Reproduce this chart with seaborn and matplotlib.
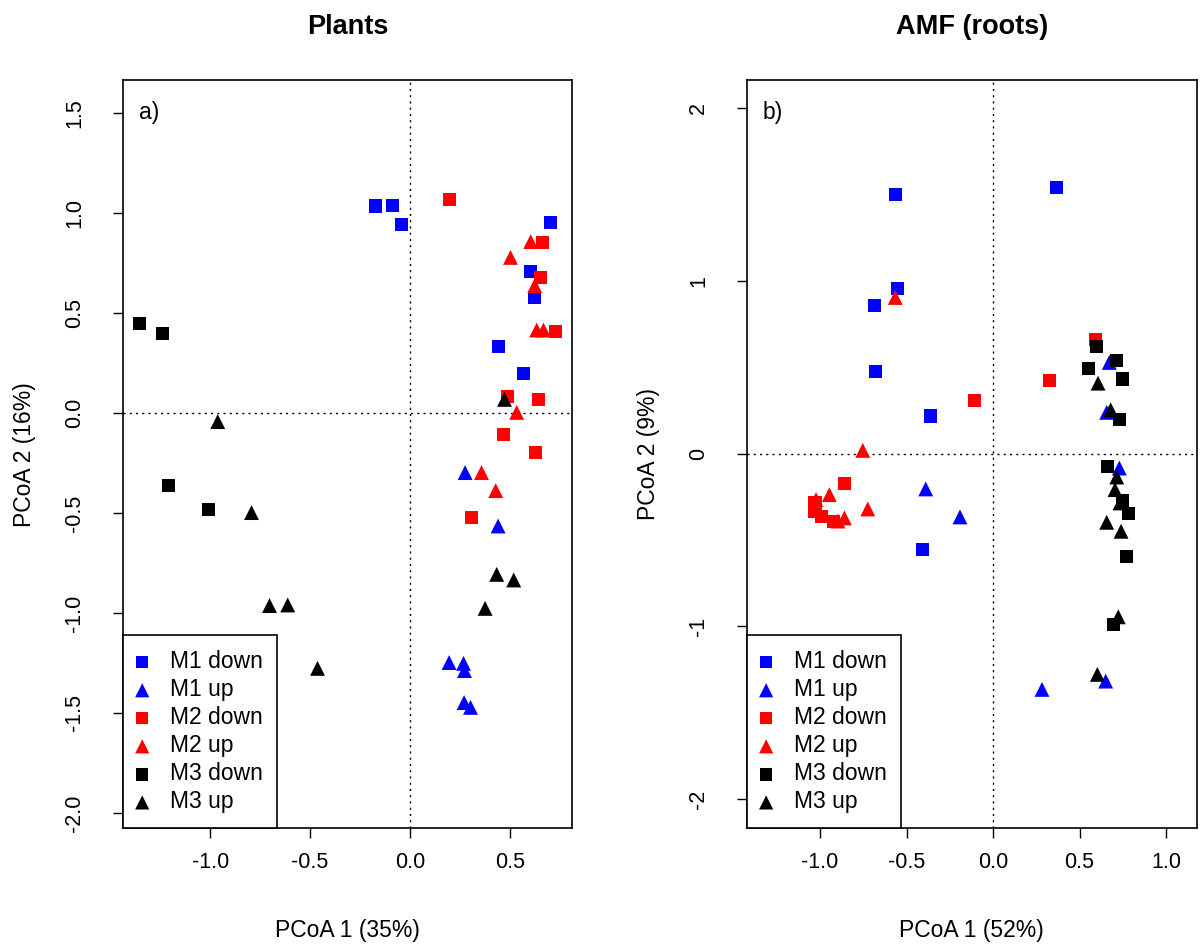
import matplotlib
matplotlib.use("Agg")
import matplotlib.pyplot as plt
import seaborn as sns
import pandas as pd

# groups and styles
groups = ["M1 down", "M1 up", "M2 down", "M2 up", "M3 down", "M3 up"]
colors = ["#0000ff", "#0000ff", "#ff0000", "#ff0000", "#000000", "#000000"]
markers = ["s", "^", "s", "^", "s", "^"]

# a) Plants
pl_m1_down_x = [-0.173, -0.088, -0.043, 0.702, 0.602, 0.622, 0.442, 0.567]
pl_m1_down_y = [1.035, 1.038, 0.943, 0.953, 0.708, 0.577, 0.333, 0.198]
pl_m1_up_x = [0.275, 0.440, 0.195, 0.267, 0.272, 0.270, 0.302]
pl_m1_up_y = [-0.298, -0.565, -1.248, -1.252, -1.288, -1.448, -1.472]
pl_m2_down_x = [0.197, 0.662, 0.650, 0.727, 0.487, 0.642, 0.467, 0.627, 0.307]
pl_m2_down_y = [1.068, 0.853, 0.678, 0.408, 0.083, 0.068, -0.107, -0.197, -0.522]
pl_m2_up_x = [0.603, 0.502, 0.623, 0.633, 0.667, 0.533, 0.357, 0.428]
pl_m2_up_y = [0.857, 0.778, 0.637, 0.415, 0.415, 0.003, -0.298, -0.388]
pl_m3_down_x = [-1.353, -1.238, -1.208, -1.008]
pl_m3_down_y = [0.448, 0.398, -0.362, -0.482]
pl_m3_up_x = [0.472, -0.962, -0.793, 0.433, 0.518, 0.375, -0.703, -0.612, -0.463]
pl_m3_up_y = [0.068, -0.043, -0.498, -0.807, -0.835, -0.977, -0.963, -0.960, -1.277]

# b) AMF (roots)
amf_m1_down_x = [-0.565, 0.366, -0.553, -0.686, -0.680, -0.362, -0.409]
amf_m1_down_y = [1.501, 1.542, 0.958, 0.859, 0.478, 0.218, -0.557]
amf_m1_up_x = [0.672, 0.657, -0.389, -0.191, 0.730, 0.651, 0.283]
amf_m1_up_y = [0.528, 0.239, -0.204, -0.366, -0.083, -1.316, -1.364]
amf_m2_down_x = [-0.108, 0.591, 0.326, -0.861, -1.029, -1.029, -0.990, -0.923]
amf_m2_down_y = [0.310, 0.659, 0.426, -0.173, -0.281, -0.333, -0.362, -0.390]
amf_m2_up_x = [-0.565, -0.753, -0.946, -1.023, -0.724, -0.859, -0.896]
amf_m2_up_y = [0.904, 0.019, -0.237, -0.266, -0.320, -0.372, -0.390]
amf_m3_down_x = [0.597, 0.713, 0.551, 0.747, 0.730, 0.661, 0.747, 0.782, 0.771, 0.696]
amf_m3_down_y = [0.622, 0.541, 0.495, 0.432, 0.195, -0.077, -0.270, -0.349, -0.597, -0.988]
amf_m3_up_x = [0.607, 0.680, 0.715, 0.705, 0.734, 0.657, 0.740, 0.724, 0.603]
amf_m3_up_y = [0.408, 0.254, -0.135, -0.208, -0.285, -0.397, -0.449, -0.944, -1.277]

plants = [(pl_m1_down_x, pl_m1_down_y), (pl_m1_up_x, pl_m1_up_y),
          (pl_m2_down_x, pl_m2_down_y), (pl_m2_up_x, pl_m2_up_y),
          (pl_m3_down_x, pl_m3_down_y), (pl_m3_up_x, pl_m3_up_y)]
amf = [(amf_m1_down_x, amf_m1_down_y), (amf_m1_up_x, amf_m1_up_y),
       (amf_m2_down_x, amf_m2_down_y), (amf_m2_up_x, amf_m2_up_y),
       (amf_m3_down_x, amf_m3_down_y), (amf_m3_up_x, amf_m3_up_y)]

sns.set_style("ticks")
plt.rcParams['font.family'] = ['Liberation Sans', 'DejaVu Sans']
plt.rcParams['axes.unicode_minus'] = False
# plain black text like base R graphics
for key in ['text.color', 'axes.labelcolor', 'xtick.color', 'ytick.color']:
    plt.rcParams[key] = 'black'

fig = plt.figure(figsize=(12.01, 9.47), dpi=100)
ax1 = fig.add_axes([0.1022, 0.1253, 0.3744, 0.7902])
ax2 = fig.add_axes([0.6217, 0.1253, 0.3747, 0.7902])


def draw_panel(ax, data, title, tag, xlab, ylab, xlim, ylim, xticks, yticks, ylabels):
    for (xs, ys), g, c, m in zip(data, groups, colors, markers):
        df = pd.DataFrame({"x": xs, "y": ys})
        size = 88 if m == "s" else 115
        sns.scatterplot(data=df, x="x", y="y", ax=ax, marker=m, color=c, s=size,
                        edgecolor="none", linewidth=0, label=g, zorder=3)
    ax.axhline(0, color="black", lw=1, ls=(0, (1.5, 3)), zorder=1)
    ax.axvline(0, color="black", lw=1, ls=(0, (1.5, 3)), zorder=1)
    ax.set_xlim(xlim)
    ax.set_ylim(ylim)
    ax.set_xticks(xticks)
    ax.set_xticklabels(["%.1f" % v for v in xticks])
    ax.set_yticks(yticks)
    ax.set_yticklabels(ylabels, rotation=90, va="center")
    ax.tick_params(axis="x", length=7, width=1, labelsize=15.5, pad=10, direction="out")
    ax.tick_params(axis="y", length=7, width=1, labelsize=15.5, pad=20, direction="out")
    for sp in ax.spines.values():
        sp.set_linewidth(1.2)
        sp.set_color("black")
    ax.set_xlabel(xlab, fontsize=16.5, labelpad=33)
    ax.set_ylabel(ylab, fontsize=16.5, labelpad=20)
    ax.set_title(title, fontsize=19.5, fontweight="bold", pad=33)
    ax.text(0.036, 0.956, tag, transform=ax.transAxes, fontsize=16.5, va="center", ha="left")
    leg = ax.legend(loc="lower left", borderaxespad=0, fancybox=False, framealpha=1,
                    edgecolor="black", fontsize=16.5, labelspacing=0.22, handletextpad=1.0,
                    handlelength=0.4, borderpad=0.65, markerscale=0.95)
    leg.get_frame().set_linewidth(1.2)


draw_panel(ax1, plants, "Plants", "a)", "PCoA 1 (35%)", "PCoA 2 (16%)",
           (-1.437, 0.8115), (-2.077, 1.665),
           [-1.0, -0.5, 0.0, 0.5],
           [-2.0, -1.5, -1.0, -0.5, 0.0, 0.5, 1.0, 1.5],
           ["-2.0", "-1.5", "-1.0", "-0.5", "0.0", "0.5", "1.0", "1.5"])
draw_panel(ax2, amf, "AMF (roots)", "b)", "PCoA 1 (52%)", "PCoA 2 (9%)",
           (-1.424, 1.177), (-2.168, 2.162),
           [-1.0, -0.5, 0.0, 0.5, 1.0],
           [-2, -1, 0, 1, 2],
           ["-2", "-1", "0", "1", "2"])

fig.savefig("out.png", dpi=100)
